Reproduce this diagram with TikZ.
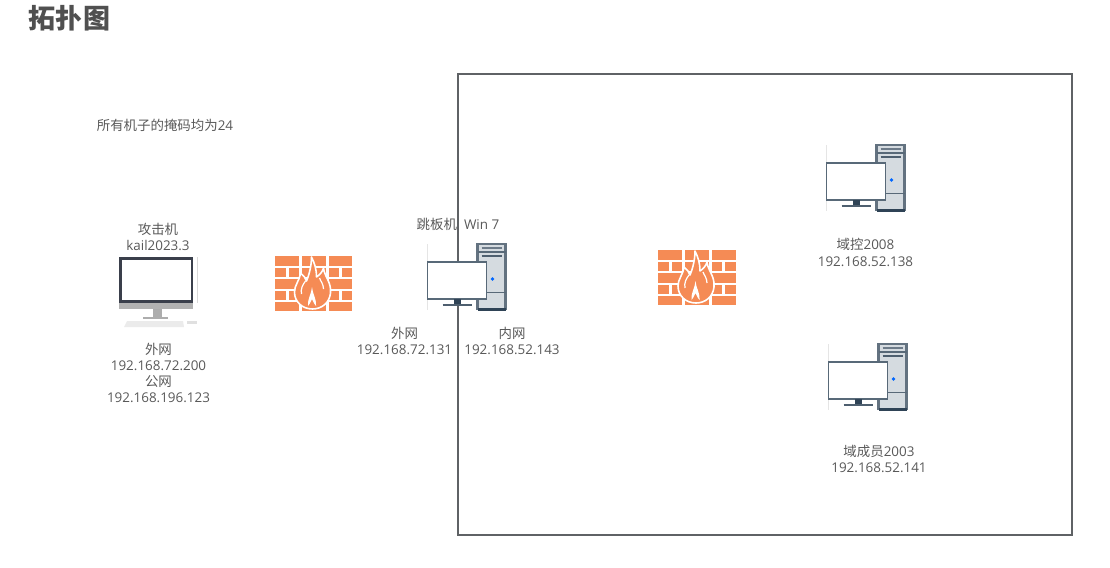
\documentclass[tikz,border=0pt]{standalone}
\usepackage{fontspec}
\setmainfont{Open Sans}
\newfontfamily\cjk{Noto Sans CJK SC}
\usepackage{tikz}

\definecolor{boxgray}{HTML}{5F6265}
\definecolor{labelgray}{HTML}{595959}
\definecolor{brick}{HTML}{F58B55}
\definecolor{towerfill}{HTML}{D5DBE0}
\definecolor{towerdark}{HTML}{2F4356}
\definecolor{screendark}{HTML}{3A3F4B}

\tikzset{
  label text/.style={text=labelgray, align=center, inner sep=0pt, font=\fontsize{7.65}{9.25}\selectfont},
  firewall/.pic={
    % Bricks
    \foreach \ya/\yb in {0/9.5, 23/32.5, 46/55}
      \foreach \xa/\xb in {0/24, 27/51, 54/77.5}
        \fill[brick] (\xa,\ya) rectangle (\xb,\yb);
    \foreach \ya/\yb in {11.5/21, 35/44}
      \foreach \xa/\xb in {0/11, 14/24, 27/37, 40/51, 54/64, 67/77.5}
        \fill[brick] (\xa,\ya) rectangle (\xb,\yb);
    % Flame
    \draw[white, line width=0.9pt, fill=brick, line join=round] (37,1)
      .. controls (40,7) and (42,13) .. (42,21)
      .. controls (45,19) and (48,16) .. (49,12)
      .. controls (50,21) and (57,26) .. (56,37)
      .. controls (55,47) and (47,53) .. (38,53)
      .. controls (28,53) and (20,46) .. (20,36)
      .. controls (20,29) and (25,25) .. (26,17)
      .. controls (29,19) and (31,22) .. (32,25)
      .. controls (35,18) and (37,9) .. (37,1) -- cycle;
    \draw[white, line width=0.7pt] (31,25) .. controls (28,29) and (26,33) .. (27,38);
    \draw[white, line width=0.7pt] (45,22) .. controls (46,25) and (49,28) .. (49,33);
    \fill[white] (37.5,31) .. controls (38,38) and (42,42) .. (41.5,50)
      .. controls (39,47) and (38.5,45) .. (37.5,43)
      .. controls (36.5,45) and (36,47) .. (33.5,50)
      .. controls (33,42) and (37,38) .. (37.5,31) -- cycle;
  },
  desktop/.pic={
    % Faint edge
    \draw[black!10, line width=0.4pt] (0,-18) -- (0,48);
    % Tower
    \fill[towerfill] (50,-18) rectangle (78,48);
    \draw[towerdark!75, line width=1.2pt] (50,48) |- (78,-18) -- (78,48);
    \draw[towerdark, line width=1.5pt] (50,47.5) -- (78,47.5);
    \draw[towerdark!80, line width=0.6pt] (50,-10) -- (78,-10);
    \draw[towerdark!70, line width=0.7pt] (54,-14) -- (74,-14);
    \draw[towerdark!85, line width=1.6pt] (54,-6) -- (74,-6);
    \draw[towerdark!80, line width=0.5pt] (50,30) -- (78,30);
    \fill[blue!60!cyan] (65,17) circle (1.8);
    % Monitor
    \draw[towerdark!80, fill=white, line width=1.1pt] (0,0) rectangle (59,37);
    \fill[towerdark] (26,37) rectangle (33,43);
    \draw[towerdark!85, line width=1pt] (15,43) -- (44,43);
  },
}

\begin{document}
\begin{tikzpicture}[x=0.02cm, y=-0.02cm]
\useasboundingbox (0,0) rectangle (1110,568);

% Title
\node[text=labelgray!90!black, inner sep=0pt, font={\cjk\fontsize{15.4}{18}\selectfont\bfseries}] (title) at (69.5,18) {拓扑图};

% Inner network
\draw[boxgray, line width=1.1pt] (458,74) rectangle (1072,535);

% Note
\node[label text] (note) at (165,125) {{\cjk 所有机子的掩码均为}24};

% Attack machine
\fill[black!15] (196.5,257) rectangle (197.5,303);
\fill[screendark] (119,257) rectangle (193,303);
\fill[white] (121.5,260) rectangle (190.5,300);
\fill[black!30] (119,303) rectangle (193,309);
\fill[black!32] (153,309) rectangle (162,317);
\fill[black!32] (143,317) rectangle (168,319);
\fill[black!8] (127,321) -- (183,321) -- (184,327) -- (124,327) -- cycle;
\fill[black!12] (187,321) rectangle (197,324);
\node[label text] (attacker) at (158,237) {{\cjk 攻击机}\\kail2023.3};
\node[label text] (attackerip) at (158.5,373) {{\cjk 外网}\\192.168.72.200\\{\cjk 公网}\\192.168.196.123};

% Firewalls
\pic (fwouter) at (274.5,256) {firewall};
\pic (fwinner) at (658,250) {firewall};

% Jump host
\pic (jump) at (427.5,262) {desktop};
\node[label text] (jumpname) at (458,224) {{\cjk 跳板机}\ \ Win 7};
\node[label text] (jumpout) at (404.5,341) {{\cjk 外网}\\192.168.72.131};
\node[label text] (jumpin) at (512,341) {{\cjk 内网}\\192.168.52.143};

% Domain machines
\pic (dc) at (826.5,163) {desktop};
\node[label text] (dcname) at (865.5,252.5) {{\cjk 域控}2008\\192.168.52.138};
\pic (member) at (828.5,362) {desktop};
\node[label text] (membername) at (879,459) {{\cjk 域成员}2003\\192.168.52.141};

\end{tikzpicture}
\end{document}
